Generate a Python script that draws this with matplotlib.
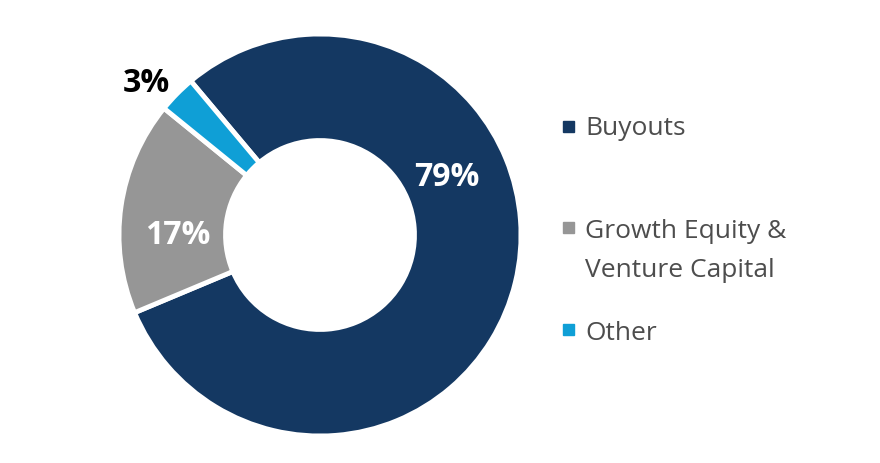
import matplotlib.pyplot as plt
from matplotlib.patches import Rectangle

# Data
labels = ["Buyouts", "Growth Equity &\nVenture Capital", "Other"]
shares = [79, 17, 3]
pct_text = ["79%", "17%", "3%"]
colors = ["#143862", "#969696", "#0f9fd6"]

plt.rcParams['font.family'] = ['Open Sans', 'DejaVu Sans']

fig = plt.figure(figsize=(8.8, 4.64), dpi=100)
W, H = 880, 464
cx, cy, r = 320, 228, 201
ax = fig.add_axes([(cx - r) / W, (cy - r) / H, 2 * r / W, 2 * r / H])

wedges, _ = ax.pie(shares, colors=colors, startangle=130, counterclock=False,
                   radius=1, wedgeprops=dict(width=0.53, edgecolor='white', linewidth=3.5))
ax.set_xlim(-1, 1)
ax.set_ylim(-1, 1)
ax.set_aspect('equal')
ax.axis('off')

# percentage labels
pct_pos = [(0.63, 0.29), (-0.71, 0.0), (-0.865, 0.76)]
pct_col = ['white', 'white', 'black']
for t, (x, y), c in zip(pct_text, pct_pos, pct_col):
    ax.text(x, y, t, color=c, fontsize=23, fontweight='bold',
            ha='center', va='center')

# legend, placed by hand (baselines in pixels from top)
marker_y = [127, 228, 330]
baseline_y = [135, 238, 340]
line_gap = 39
for lab, col, my, by in zip(labels, colors, marker_y, baseline_y):
    fig.patches.append(Rectangle((563 / W, 1 - (my + 5.5) / H), 11 / W, 11 / H,
                                 transform=fig.transFigure, color=col))
    for i, line in enumerate(lab.split('\n')):
        fig.text(585 / W, 1 - (by + i * line_gap) / H, line, fontsize=19,
                 color='#4d4d4d', ha='left', va='baseline')

fig.savefig("out.png", dpi=100)
